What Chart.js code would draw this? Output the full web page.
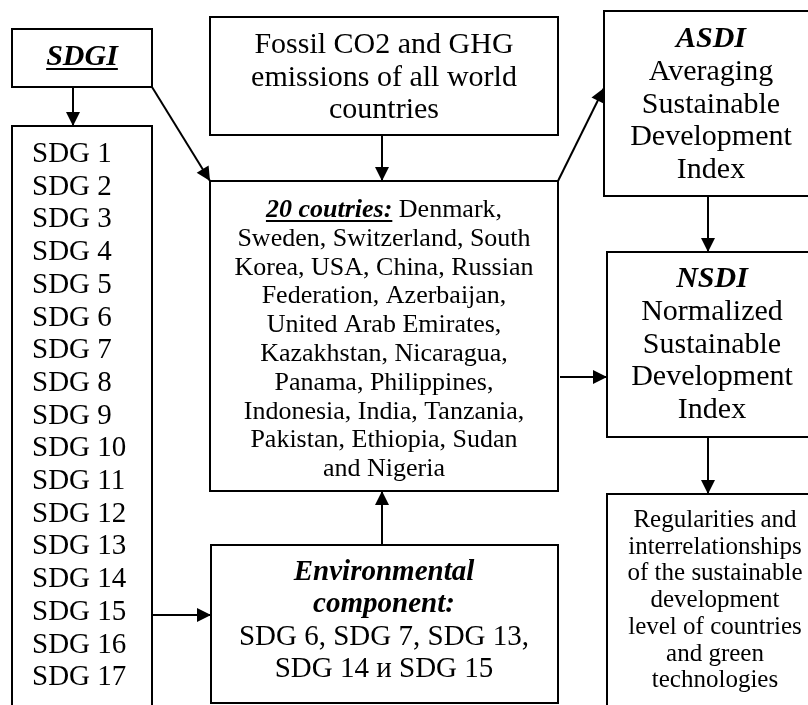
<!DOCTYPE html>
<html>
<head>
<meta charset="utf-8">
<script src="https://cdn.jsdelivr.net/npm/chart.js@4"></script>
<style>
  body { margin: 0; background: #fff; }
  #wrap { width: 808px; height: 705px; }
</style>
</head>
<body>
<div id="wrap"><canvas id="myChart" width="808" height="705"></canvas></div>
<script>
// box texts (each line is a list of runs: [text, style])
const sdgiText = [[["SDGI", "biu"]]];
const sdgList = ["SDG 1", "SDG 2", "SDG 3", "SDG 4", "SDG 5", "SDG 6", "SDG 7", "SDG 8", "SDG 9",
  "SDG 10", "SDG 11", "SDG 12", "SDG 13", "SDG 14", "SDG 15", "SDG 16", "SDG 17"];
const fossilText = ["Fossil CO2 and GHG", "emissions of all world", "countries"];
const countriesText = [
  [["20 coutries:", "biu"], [" Denmark,", ""]],
  "Sweden, Switzerland, South",
  "Korea, USA, China, Russian",
  "Federation, Azerbaijan,",
  "United Arab Emirates,",
  "Kazakhstan, Nicaragua,",
  "Panama, Philippines,",
  "Indonesia, India, Tanzania,",
  "Pakistan, Ethiopia, Sudan",
  "and Nigeria"
];
const asdiText = [[["ASDI", "bi"]], "Averaging", "Sustainable", "Development", "Index"];
const nsdiText = [[["NSDI", "bi"]], "Normalized", "Sustainable", "Development", "Index"];
const envText = [[["Environmental", "bi"]], [["component:", "bi"]], "SDG 6, SDG 7, SDG 13,", "SDG 14 и SDG 15"];
const resultText = ["Regularities and", "interrelationships", "of the sustainable", "development",
  "level of countries", "and green", "technologies"];

// layout: box edges, text anchor, first baseline, line height, font size
const boxes = [
  { lines: sdgiText,      x1: 12,  y1: 29,  x2: 152, y2: 87,  tx: 82,  by: 65,  lh: 32,   fs: 30, align: "center" },
  { lines: sdgList,       x1: 12,  y1: 126, x2: 152, y2: 730, tx: 32,  by: 162, lh: 32.7, fs: 29, align: "left" },
  { lines: fossilText,    x1: 210, y1: 17,  x2: 558, y2: 135, tx: 384, by: 53,  lh: 32.5, fs: 30, align: "center" },
  { lines: countriesText, x1: 210, y1: 181, x2: 558, y2: 491, tx: 384, by: 217, lh: 28.8, fs: 26, align: "center" },
  { lines: asdiText,      x1: 604, y1: 11,  x2: 830, y2: 196, tx: 711, by: 47,  lh: 32.8, fs: 30, align: "center" },
  { lines: nsdiText,      x1: 607, y1: 252, x2: 830, y2: 437, tx: 712, by: 287, lh: 32.8, fs: 30, align: "center" },
  { lines: envText,       x1: 211, y1: 545, x2: 558, y2: 703, tx: 384, by: 580, lh: 32.4, fs: 29, align: "center" },
  { lines: resultText,    x1: 607, y1: 494, x2: 830, y2: 730, tx: 715, by: 527, lh: 26.7, fs: 25, align: "center" }
];

// connectors: start point -> arrow tip
const arrows = [
  [73, 87, 73, 126],
  [152, 87, 210, 181],
  [382, 135, 382, 181],
  [558, 181, 604, 88],
  [708, 196, 708, 252],
  [560, 377, 607, 377],
  [708, 437, 708, 494],
  [382, 545, 382, 491],
  [152, 615, 211, 615]
];

const FAMILY = '"Liberation Serif", "Times New Roman", serif';

function fontFor(style, fs) {
  let f = "";
  if (style.includes("i")) f += "italic ";
  if (style.includes("b")) f += "bold ";
  return f + fs + "px " + FAMILY;
}

const diagramPlugin = {
  id: "diagram",
  afterDatasetsDraw(chart) {
    const c = chart.ctx;
    const sx = chart.scales.x, sy = chart.scales.y;
    const px = v => sx.getPixelForValue(v);
    const py = v => sy.getPixelForValue(v);

    c.save();
    c.strokeStyle = "#000";
    c.fillStyle = "#000";

    // arrow heads
    arrows.forEach(a => {
      const x1 = px(a[0]), y1 = py(a[1]), x2 = px(a[2]), y2 = py(a[3]);
      const ang = Math.atan2(y2 - y1, x2 - x1);
      const len = 14, hw = 7;
      c.beginPath();
      c.moveTo(x2, y2);
      c.lineTo(x2 - len * Math.cos(ang) + hw * Math.sin(ang), y2 - len * Math.sin(ang) - hw * Math.cos(ang));
      c.lineTo(x2 - len * Math.cos(ang) - hw * Math.sin(ang), y2 - len * Math.sin(ang) + hw * Math.cos(ang));
      c.closePath();
      c.fill();
    });

    // boxes and texts
    boxes.forEach(b => {
      const x1 = px(b.x1), y1 = py(b.y1), x2 = px(b.x2), y2 = py(b.y2);
      c.lineWidth = 2;
      c.strokeRect(x1, y1, x2 - x1, y2 - y1);

      b.lines.forEach((line, i) => {
        const runs = typeof line === "string" ? [[line, ""]] : line;
        let total = 0;
        const widths = runs.map(r => {
          c.font = fontFor(r[1], b.fs);
          const w = c.measureText(r[0]).width;
          total += w;
          return w;
        });
        let x = b.align === "center" ? px(b.tx) - total / 2 : px(b.tx);
        const y = py(b.by + i * b.lh);
        c.textBaseline = "alphabetic";
        c.textAlign = "left";
        runs.forEach((r, k) => {
          c.font = fontFor(r[1], b.fs);
          c.fillText(r[0], x, y);
          if (r[1].includes("u")) {
            c.fillRect(x, y + 3, widths[k], 2);
          }
          x += widths[k];
        });
      });
    });
    c.restore();
  }
};

const ctx = document.getElementById("myChart").getContext("2d");

const config = {
  type: "scatter",
  data: {
    datasets: arrows.map(a => ({
      data: [{ x: a[0], y: a[1] }, { x: a[2], y: a[3] }],
      showLine: true,
      borderColor: "#000",
      borderWidth: 2,
      pointRadius: 0,
      fill: false
    }))
  },
  options: {
    responsive: false,
    animation: false,
    devicePixelRatio: 1,
    layout: { padding: 0 },
    plugins: { legend: { display: false }, tooltip: { enabled: false } },
    events: [],
    scales: {
      x: { type: "linear", min: 0, max: 808, display: false },
      y: { type: "linear", min: 0, max: 705, reverse: true, display: false }
    }
  },
  plugins: [diagramPlugin]
};

const myChart = new Chart(ctx, config);
</script>
</body>
</html>
